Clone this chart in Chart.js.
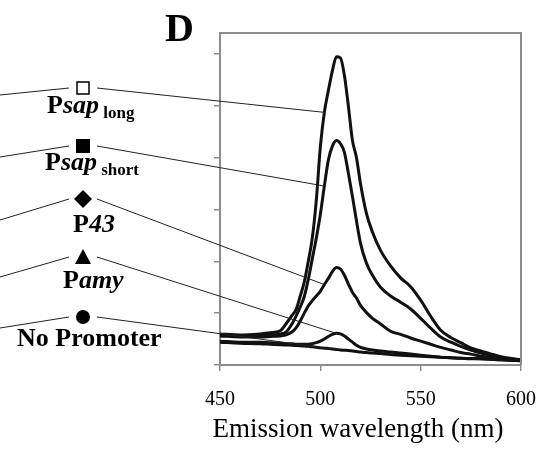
<!DOCTYPE html>
<html>
<head>
<meta charset="utf-8">
<script src="https://cdn.jsdelivr.net/npm/chart.js@4/dist/chart.umd.min.js"></script>
<style>
  html, body { margin: 0; padding: 0; background: #fff; }
  #wrap { width: 543px; height: 451px; }
</style>
</head>
<body>
<div id="wrap"><canvas id="spectraChart" width="543" height="451"></canvas></div>
<script>
const serif = '"Liberation Serif", "Times New Roman", serif';

// emission wavelength grid (nm)
const wavelengths = [450, 460, 470, 475, 480, 483, 486, 488, 490, 492, 494, 496, 498, 500, 502, 504, 506, 508, 510,
  512, 514, 516, 518, 520, 523, 526, 530, 535, 540, 545, 550, 555, 560, 565, 570, 575, 580, 590, 600];

// fluorescence (arbitrary units, tick = 100)
const psapLong  = [60, 58, 60, 62, 66, 80, 96, 108, 133, 160, 200, 245, 318, 420, 487, 529, 567, 594, 592,
  558, 498, 433, 400, 350, 292, 256, 221, 191, 168, 151, 125, 94, 67, 53, 43, 33, 27, 16, 10];
const psapShort = [58, 56, 58, 58, 60, 64, 80, 95, 112, 132, 165, 205, 245, 290, 345, 395, 422, 433, 427,
  410, 369, 325, 278, 235, 196, 173, 150, 133, 121, 108, 90, 71, 54, 44, 36, 29, 23, 14, 10];
const p43       = [56, 54, 54, 55, 56, 58, 64, 72, 85, 100, 114, 124, 133, 142, 155, 167, 180, 188, 185,
  173, 156, 140, 129, 115, 101, 90, 79, 65, 59, 52, 46, 40, 34, 29, 24, 21, 17, 13, 9];
const pAmy      = [46, 44, 44, 43, 42, 41, 41, 40, 40, 40, 40, 41, 43, 46, 50, 55, 59, 61, 60,
  56, 50, 44, 38, 34, 31, 29, 27, 25, 23, 21, 19, 17, 15, 14, 13, 12, 12, 10, 8];
const noPromoter = [44, 42, 41, 40, 39, 38.5, 38, 37.5, 37, 36.5, 36, 35, 34, 33, 32.5, 32, 31, 30, 29,
  28.5, 28, 27, 26, 25, 24, 23, 22, 20, 19, 18, 17, 16, 15, 14, 13, 12.5, 12, 10, 8];

const seriesNames = ['Psap long', 'Psap short', 'P43', 'Pamy', 'No Promoter'];
const seriesValues = [psapLong, psapShort, p43, pAmy, noPromoter];
// wavelength on each curve where its leader line ends
const leaderAt = [502, 502, 502, 512, 508];

const xTicks = [450, 500, 550, 600];

// legend layout (pixels, left of the plot)
const legendItems = [
  { marker: 'openSquare', y: 88,  leftY: 95,  parts: [['P', 'bold'], ['sap', 'italic bold'], [' long', 'bold', true]], x: 47, base: 113 },
  { marker: 'square',     y: 146, leftY: 157, parts: [['P', 'bold'], ['sap', 'italic bold'], [' short', 'bold', true]], x: 45, base: 170 },
  { marker: 'diamond',    y: 199, leftY: 220, parts: [['P', 'bold'], ['43', 'italic bold']], x: 73, base: 232 },
  { marker: 'triangle',   y: 257, leftY: 277, parts: [['P', 'bold'], ['amy', 'italic bold']], x: 63, base: 288 },
  { marker: 'circle',     y: 317, leftY: 328, parts: [['No Promoter', 'bold']], x: 17, base: 346 }
];

const axisGray = '#8c8c8c';

const panelDecor = {
  id: 'panelDecor',
  afterDraw(chart) {
    const ctx = chart.ctx;
    const area = chart.chartArea;
    ctx.save();

    // top and right frame
    ctx.strokeStyle = axisGray;
    ctx.lineWidth = 2;
    ctx.beginPath();
    ctx.moveTo(area.left, area.top);
    ctx.lineTo(area.right, area.top);
    ctx.lineTo(area.right, area.bottom);
    ctx.stroke();

    // leader lines and markers
    legendItems.forEach((item, i) => {
      const meta = chart.getDatasetMeta(i);
      const pt = meta.data[wavelengths.indexOf(leaderAt[i])];
      ctx.strokeStyle = '#222';
      ctx.lineWidth = 1;
      ctx.beginPath();
      ctx.moveTo(0, item.leftY);
      ctx.lineTo(69, item.y);
      ctx.moveTo(97, item.y);
      ctx.lineTo(pt.x, pt.y);
      ctx.stroke();

      const cx = 83, cy = item.y;
      ctx.fillStyle = '#000';
      ctx.strokeStyle = '#000';
      ctx.beginPath();
      if (item.marker === 'openSquare') {
        ctx.fillStyle = '#fff';
        ctx.lineWidth = 1.5;
        ctx.rect(cx - 6, cy - 6, 12, 12);
        ctx.fill();
        ctx.stroke();
      } else if (item.marker === 'square') {
        ctx.rect(cx - 7, cy - 7, 14, 14);
        ctx.fill();
      } else if (item.marker === 'diamond') {
        ctx.moveTo(cx, cy - 9);
        ctx.lineTo(cx + 9, cy);
        ctx.lineTo(cx, cy + 9);
        ctx.lineTo(cx - 9, cy);
        ctx.closePath();
        ctx.fill();
      } else if (item.marker === 'triangle') {
        ctx.moveTo(cx, cy - 8);
        ctx.lineTo(cx + 8, cy + 7);
        ctx.lineTo(cx - 8, cy + 7);
        ctx.closePath();
        ctx.fill();
      } else {
        ctx.arc(cx, cy, 7, 0, Math.PI * 2);
        ctx.fill();
      }

      // label text
      let x = item.x;
      ctx.fillStyle = '#000';
      ctx.textBaseline = 'alphabetic';
      ctx.textAlign = 'left';
      item.parts.forEach(([text, style, sub]) => {
        ctx.font = sub ? `${style} 17px ${serif}` : `${style} 26px ${serif}`;
        ctx.fillText(text, x, sub ? item.base + 5 : item.base);
        x += ctx.measureText(text).width;
      });
    });

    // panel letter
    ctx.font = `bold 40px ${serif}`;
    ctx.fillText('D', 165, 41);

    // x axis title
    ctx.font = `27px ${serif}`;
    ctx.textAlign = 'center';
    ctx.textBaseline = 'alphabetic';
    ctx.fillText('Emission wavelength (nm)', 358, 437);

    ctx.restore();
  }
};

new Chart(document.getElementById('spectraChart'), {
  type: 'line',
  data: {
    labels: wavelengths,
    datasets: seriesValues.map((vals, i) => ({
      label: seriesNames[i],
      data: wavelengths.map((w, j) => ({ x: w, y: vals[j] })),
      borderColor: '#111',
      borderWidth: 3,
      pointRadius: 0,
      fill: false,
      cubicInterpolationMode: 'monotone'
    }))
  },
  options: {
    responsive: false,
    animation: false,
    layout: { padding: { left: 0, right: 22, top: 33, bottom: 0 } },
    plugins: {
      legend: { display: false },
      tooltip: { enabled: false }
    },
    scales: {
      x: {
        type: 'linear',
        min: 450,
        max: 600,
        afterBuildTicks: (scale) => { scale.ticks = xTicks.map(v => ({ value: v })); },
        afterFit: (scale) => {
          scale.height = 86;
          scale.paddingLeft = 0;
          scale.paddingRight = 0;
        },
        ticks: {
          color: '#000',
          font: { family: serif, size: 20 },
          padding: 17,
          maxRotation: 0
        },
        grid: { drawOnChartArea: false, drawTicks: true, tickLength: 6, color: axisGray, lineWidth: 1.5 },
        border: { color: axisGray, width: 2 }
      },
      y: {
        min: 0,
        max: 640,
        afterFit: (scale) => { scale.width = 220; },
        ticks: { display: false, stepSize: 100, includeBounds: false },
        grid: { drawOnChartArea: false, drawTicks: true, tickLength: 6, color: axisGray, lineWidth: 1.5 },
        border: { color: axisGray, width: 2 }
      }
    }
  },
  plugins: [panelDecor]
});
</script>
</body>
</html>
